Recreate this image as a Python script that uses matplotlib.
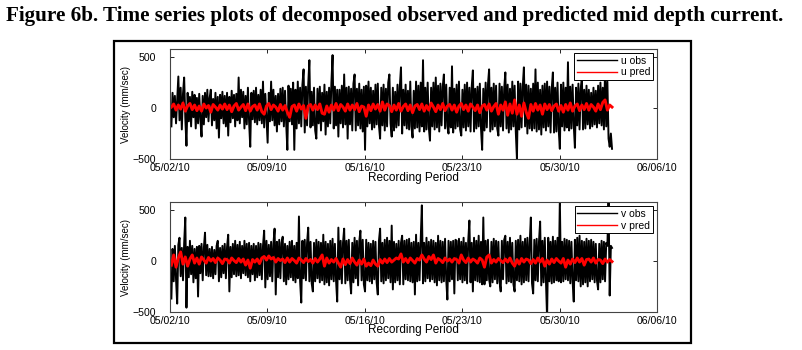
import numpy as np
import pandas as pd
import matplotlib
matplotlib.use('Agg')
import matplotlib.pyplot as plt
import matplotlib.dates as mdates
from matplotlib.patches import Rectangle

plt.rcParams['font.family'] = ['Liberation Sans', 'DejaVu Sans']

# observed: 2-hourly, predicted: 4-hourly, both from 02 May 2010 02:24
obs_times = pd.date_range('2010-05-02 02:24', periods=381, freq='2h')
pred_times = pd.date_range('2010-05-02 02:24', periods=191, freq='4h')

u_obs = [
    -180, 150, -90, 120, -150, 90, 310, -120, 200, -210, 140, 300, -100, -370, 150, -130, 110, -180, 160, -90, 130, -200, 100, -150,
    140, -110, -280, 120, -160, 150, -90, 180, -130, 100, 180, -170, 90, -120, 150, -200, 110, -290, 130, -100, 160, -150, 120, -180,
    150, -270, 110, -140, 170, -100, 130, -180, 140, -120, 300, -150, 180, -90, 160, -200, 120, -160, 200, -130, -380, 150, -110, 170,
    -140, 200, -160, 130, -120, 180, -150, 260, -190, 140, -110, -340, 150, -130, 260, -120, 180, -170, 120, -230, 140, -160, 190, -130,
    200, -180, 170, -150, -410, 220, -130, 190, -160, 250, -410, 180, -200, 260, -150, 200, -180, 230, 380, -240, 210, -170, 230, 470,
    -190, 160, -170, 200, -220, -300, 190, -150, 210, -220, 150, -130, 230, -260, 160, -180, 200, -150, 250, 520, -200, 210, -170, 180,
    -280, 180, -150, 220, -190, 330, -160, 200, -300, 210, -160, 190, -220, 240, 330, -220, 190, -170, 240, -200, 180, -230, 210, -410,
    220, -180, 260, -150, 200, -210, 170, -190, 230, -160, 240, -170, -300, 200, -170, 230, -220, 190, -180, 250, 330, -150, -280, 200,
    -220, 160, -190, 230, -170, 210, 400, -250, 180, -170, 230, -200, 170, -210, 260, -180, -290, 170, -200, 260, -190, 220, -230, 250,
    -180, 470, -230, 200, -210, 250, -190, -320, 200, -180, 250, -210, 300, -190, 220, -230, 240, -170, 210, 330, -200, 230, -180, -250,
    200, -190, 410, -240, 190, -200, 230, -180, 260, -210, -270, 180, -190, 230, -220, 250, -180, 200, -230, 210, 370, -230, 190, -200,
    210, -180, 240, -200, -410, 190, -220, 250, -190, 230, 380, -230, 200, -210, 240, -180, 220, -200, -270, 240, -180, 210, -220, 190,
    350, -200, 230, -240, 190, -210, 260, -180, 220, -230, -500, 260, -210, 240, -190, 210, 400, -180, 230, -250, 220, -200, 190, -220,
    240, -200, 380, -230, 250, -210, 180, -260, 220, -190, 240, -220, 260, -180, 210, -240, 190, 350, -240, 200, -230, 250, -210, -400,
    230, -180, 250, -220, 200, -190, 450, -220, 210, -200, 230, -170, -390, 200, -170, 240, -210, 190, 300, -210, 180, -200, 220, -160,
    180, -200, 150, -180, 200, -160, 170, -190, 220, -150, 250, -170, 200, -210, 390, -180, 260, -300, -380, -250, -400,
]
u_pred = [
    10, 40, -20, 30, -10, 50, -30, 20, 45, -15, 30, -25,
    20, -30, 40, 0, 25, -40, 35, 10, -20, 30, -10, 40,
    -15, 30, -35, 20, 45, -20, 10, 35, -25, 40, -30, 15,
    30, -20, 40, -35, -60, 20, 45, -15, 30, 10, -30, 35,
    -20, 25, -40, -90, 15, 30, -30, 40, -10, 25, -100, 20,
    35, -20, 30, -15, 40, -50, -60, 20, -40, 30, -20, 45,
    -25, 35, 10, -30, 40, -20, 30, -15, 45, -35, 20, 10,
    -80, 30, -25, 40, -10, 35, -30, 60, -20, 40, 25, -35,
    30, -20, 45, -30, 15, 40, -25, 30, -45, 20, 35, -15,
    40, -30, 25, -20, 50, 10, -35, 30, -15, 45, -25, 20,
    35, -20, 30, -40, 20, 45, -15, 30, -30, 40, 10, -25,
    30, -45, 20, 35, -20, 40, -30, 15, 45, -60, 30, -20,
    60, -70, 40, -50, 80, -60, 30, -80, 50, -40, -100, 35,
    -30, 45, -20, 30, -60, 40, -15, 35, -25, 20, 40, -30,
    25, -40, 35, -20, 50, -30, 20, 40, -25, 30, -15, 45,
    -20, 35, 10, -30, 40, -15, 55, 80, -20, 30, 10,
]
v_obs = [
    -370, 120, -200, 150, -180, -420, 160, 230, -150, 130, -190, 170, 430, -460, 140, -160, 200, -130, 150, -210, 120, -170, 140, -350,
    150, -120, 170, -190, 130, 280, -140, 160, -150, 120, -150, 140, -170, 110, -130, 150, 200, -200, 130, -160, 150, -120, 170, -170,
    140, 260, -300, 140, -160, 170, -130, 200, -150, 160, -140, 190, -170, 150, -120, 200, -140, 170, -160, 180, -200, 150, -130, 170,
    -190, 150, -160, 180, -140, 170, -180, 150, 300, -260, 200, -180, 160, -150, 190, -200, 170, 320, -330, 190, -160, 210, -170, 180,
    240, -200, 170, -230, 150, -180, 190, -160, 200, -190, 150, -210, 180, -170, 440, -200, -410, 200, -170, 210, -190, 180, 330, -200,
    190, -220, -300, 180, -200, 210, -170, 190, -210, 180, -190, 260, -230, 190, -210, 170, -240, 200, -180, 220, -200, 170, -190, -400,
    330, -180, 200, -220, 180, 320, -220, 200, -190, 210, -180, -320, 180, -210, 230, -170, 200, -240, 190, 300, -190, 210, -230, -300,
    210, -190, 180, -200, 170, -220, 200, -180, 190, -210, -330, 200, 320, -200, 180, -220, 210, -190, 230, -170, 200, -210, 350, -280,
    190, -210, 170, -190, 200, -230, 180, 250, -230, 200, -180, 210, -190, 220, -200, 180, -210, 190, -330, 260, -200, 180, -190, 210,
    550, -220, 180, -200, 230, -170, 190, -200, 210, -180, 200, -210, 180, -240, 250, -190, 200, -210, 190, -200, 220, -180, -380, 200,
    -200, 190, -180, 200, -320, 210, 200, -190, 220, -180, 190, -210, 230, -190, 180, -220, 200, 400, -210, 180, -300, 230, -190, 200,
    -200, 250, -210, 190, -230, 430, -230, 200, -190, 210, -180, -250, 190, -210, 220, -180, 200, -220, 190, -200, -300, 200, -180, 210,
    250, -220, 190, -200, 230, -210, 180, -230, -300, 200, -190, 210, -200, 250, -230, 190, -210, 220, -190, 230, -200, 180, 430, -220,
    -320, 210, -190, 220, -200, 190, 390, -240, 200, -210, 230, -190, -560, 230, -200, 190, -220, 240, -210, 200, -190, 230, -200, 600,
    -210, 190, -200, 220, -180, 210, -190, 200, -220, 190, -200, -400, 210, -190, 230, -200, 250, -250, 200, -230, 190, -210, 220, -250,
    200, -200, 210, -180, 190, -210, 170, -190, -280, 170, -210, 200, -180, 190, -200, 180, 150, 600, -340, 150, 130,
]
v_pred = [
    -40, 60, -60, 30, 90, -30, 40, -50, 20, 60, -20, 30,
    -30, 40, 10, -20, 35, 0, 25, -15, 30, 10, -25, 20,
    15, -20, 30, 5, -15, 25, -10, 20, -40, 10, -70, 15,
    -10, 20, -25, 30, 45, 10, 50, 20, 35, -10, 25, 5,
    20, -15, 30, -10, 25, 5, -20, 30, 10, -15, 25, -5,
    15, -20, 25, -10, 20, 60, -50, 30, -20, 15, -10, 25,
    -20, -60, 20, -35, 15, -25, 30, -10, -40, 10, -30, 20,
    -50, -20, -45, 10, -30, -50, 15, -20, 20, -15, 25, -10,
    10, 30, 20, 70, -10, 25, -15, 30, 5, -20, 25, 10,
    60, 20, -10, 45, 15, 60, -20, 25, 10, -15, 30, 0,
    20, -10, 25, 15, -20, 60, 10, -15, 30, -10, 20, 5,
    -20, 30, 10, -60, 40, 60, -20, 15, -10, 25, 5, -15,
    20, -10, 30, -20, -50, 15, -30, 25, -10, 20, 10, -25,
    15, -20, 30, -10, 25, -50, 10, -30, 20, -15, 25, 0,
    -20, 25, -60, 10, -30, 20, -15, 30, -10, 25, -40, 15,
    20, -10, 30, -20, 15, 10, -25, 20, -10, 15, -5,
]

tick_dates = pd.to_datetime(['2010-05-02', '2010-05-09', '2010-05-16',
                             '2010-05-23', '2010-05-30', '2010-06-06'])
y_ticks = [-500, 0, 500]

fig = plt.figure(figsize=(8.03, 3.5), dpi=100)

fig.text(0.007, 0.955, 'Figure 6b. Time series plots of decomposed observed and '
         'predicted mid depth current.', family='Liberation Serif',
         fontweight='bold', fontsize=15.2, va='center', ha='left')

fig.patches.append(Rectangle((0.142, 0.02), 0.7186, 0.8629, transform=fig.transFigure,
                             fill=False, edgecolor='black', linewidth=1.6))

panels = [
    ([0.2117, 0.5457, 0.6065, 0.3143], u_obs, u_pred, ['u obs', 'u pred']),
    ([0.2117, 0.1094, 0.6065, 0.3126], v_obs, v_pred, ['v obs', 'v pred']),
]

for rect, obs, pred, names in panels:
    ax = fig.add_axes(rect)
    ax.plot(obs_times, obs, color='black', linewidth=1.4, label=names[0])
    ax.plot(pred_times, pred, color='red', linewidth=2.1, label=names[1])
    ax.set_xlim(tick_dates[0], tick_dates[-1])
    ax.set_ylim(-500, 580)
    ax.set_xticks(tick_dates)
    ax.xaxis.set_major_formatter(mdates.DateFormatter('%m/%d/%y'))
    ax.set_yticks(y_ticks)
    ax.tick_params(direction='in', length=3, width=0.6, top=True, right=True,
                   labelsize=7.6)
    ax.tick_params(axis='y', pad=10)
    ax.tick_params(axis='x', pad=3)
    for s in ax.spines.values():
        s.set_color('#444444')
        s.set_linewidth(0.8)
    ax.set_xlabel('Recording Period', fontsize=8.5)
    ax.xaxis.set_label_coords(0.5, -0.115)
    ax.set_ylabel('Velocity (mm/sec)', fontsize=7)
    ax.yaxis.set_label_coords(-0.08, 0.5)
    leg = ax.legend(loc='upper right', fontsize=7.5, frameon=True, fancybox=False,
                    edgecolor='black', framealpha=1, handlelength=3.8,
                    handletextpad=0.4, borderpad=0.25, labelspacing=0.15,
                    borderaxespad=0.4)
    leg.get_frame().set_linewidth(0.7)
    for line in leg.get_lines():
        line.set_linewidth(1.0)

fig.savefig('out.png', dpi=100)
